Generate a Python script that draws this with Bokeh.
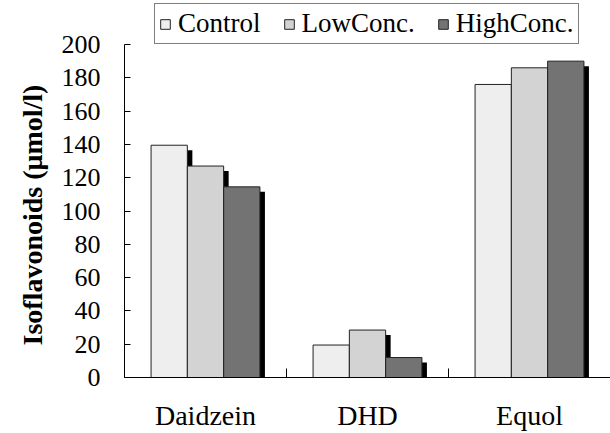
from bokeh.plotting import figure
from bokeh.models import ColumnDataSource, Range1d, FixedTicker, Legend, LegendItem, Title
from bokeh.embed import file_html
from bokeh.resources import INLINE

# ---- data ----
categories = ["Daidzein", "DHD", "Equol"]
series = ["Control", "LowConc.", "HighConc."]
control = [139.5, 19.5, 176.0]
low_conc = [127.0, 28.5, 186.0]
high_conc = [114.5, 12.0, 190.0]
y_ticks = [0, 20, 40, 60, 80, 100, 120, 140, 160, 180, 200]
y_label = "Isoflavonoids (μmol/l)"

values = [control, low_conc, high_conc]
fills = ["#EEEEEE", "#D3D3D3", "#737373"]

FONT = "Liberation Serif"
FRAME_W = 486
AXIS_H = 333          # pixel height of the 0..200 axis
FRAME_H = 377         # frame extends above the axis to hold the legend
y_top = y_ticks[-1] * FRAME_H / AXIS_H
n_cat = len(categories)

p = figure(width=610, height=433,
           x_range=Range1d(0, n_cat), y_range=Range1d(0, y_top),
           output_backend="svg", toolbar_location=None,
           min_border_left=124, min_border_right=0,
           min_border_top=0, min_border_bottom=56)
p.background_fill_color = "white"
p.border_fill_color = "white"
p.outline_line_color = None
p.xgrid.visible = False
p.ygrid.visible = False

bar_w = 0.224
offsets = [-bar_w, 0.0, bar_w]
sx = 5.0 * n_cat / FRAME_W      # 5px shadow shift in x data units
sy = 5.0 * y_top / FRAME_H      # 5px shadow shift in y data units

renderers = []
for k, (vals, col) in enumerate(zip(values, fills)):
    xs = [i + 0.5 + offsets[k] for i in range(n_cat)]
    src = ColumnDataSource(dict(
        x=xs, top=vals,
        sx=[x + sx for x in xs], stop=[v - sy for v in vals]))
    p.vbar(x="sx", top="stop", bottom=0, width=bar_w, source=src,
           fill_color="black", line_color=None)
    r = p.vbar(x="x", top="top", bottom=0, width=bar_w, source=src,
               fill_color=col, line_color="#222222", line_width=1)
    renderers.append(r)

# axes
xa = p.xaxis[0]
xa.ticker = FixedTicker(ticks=[i + 0.5 for i in range(n_cat)],
                        minor_ticks=list(range(n_cat + 1)))
xa.major_label_overrides = {i + 0.5: c for i, c in enumerate(categories)}
xa.major_tick_in = 0
xa.major_tick_out = 0
xa.minor_tick_in = 9
xa.minor_tick_out = 0
xa.minor_tick_line_color = "black"
xa.axis_line_color = "black"
xa.major_label_standoff = 22
xa.major_label_text_font = FONT
xa.major_label_text_font_size = "28px"
xa.major_label_text_color = "black"

ya = p.yaxis[0]
ya.ticker = FixedTicker(ticks=y_ticks)
ya.bounds = (y_ticks[0], y_ticks[-1])
ya.major_tick_in = 6
ya.major_tick_out = 0
ya.minor_tick_line_color = None
ya.axis_line_color = "black"
ya.major_tick_line_color = "black"
ya.major_label_standoff = 24
ya.major_label_text_font = FONT
ya.major_label_text_font_size = "26px"
ya.major_label_text_color = "black"

ytitle = Title(text=y_label, align="left", offset=32, standoff=22,
               text_font=FONT, text_font_size="28px",
               text_font_style="bold", text_color="black")
p.add_layout(ytitle, "left")

legend = Legend(items=[LegendItem(label=s, renderers=[r]) for s, r in zip(series, renderers)],
                orientation="horizontal", location=(30, AXIS_H))
legend.label_text_font = FONT
legend.label_text_font_size = "27px"
legend.label_text_color = "black"
legend.glyph_width = 12
legend.glyph_height = 12
legend.label_standoff = 7
legend.spacing = 22
legend.padding = 4
legend.margin = 0
legend.border_line_color = "black"
legend.border_line_width = 1
legend.background_fill_color = "white"
legend.background_fill_alpha = 1.0
p.add_layout(legend, "center")

open("out.html", "w").write(file_html(p, INLINE))
